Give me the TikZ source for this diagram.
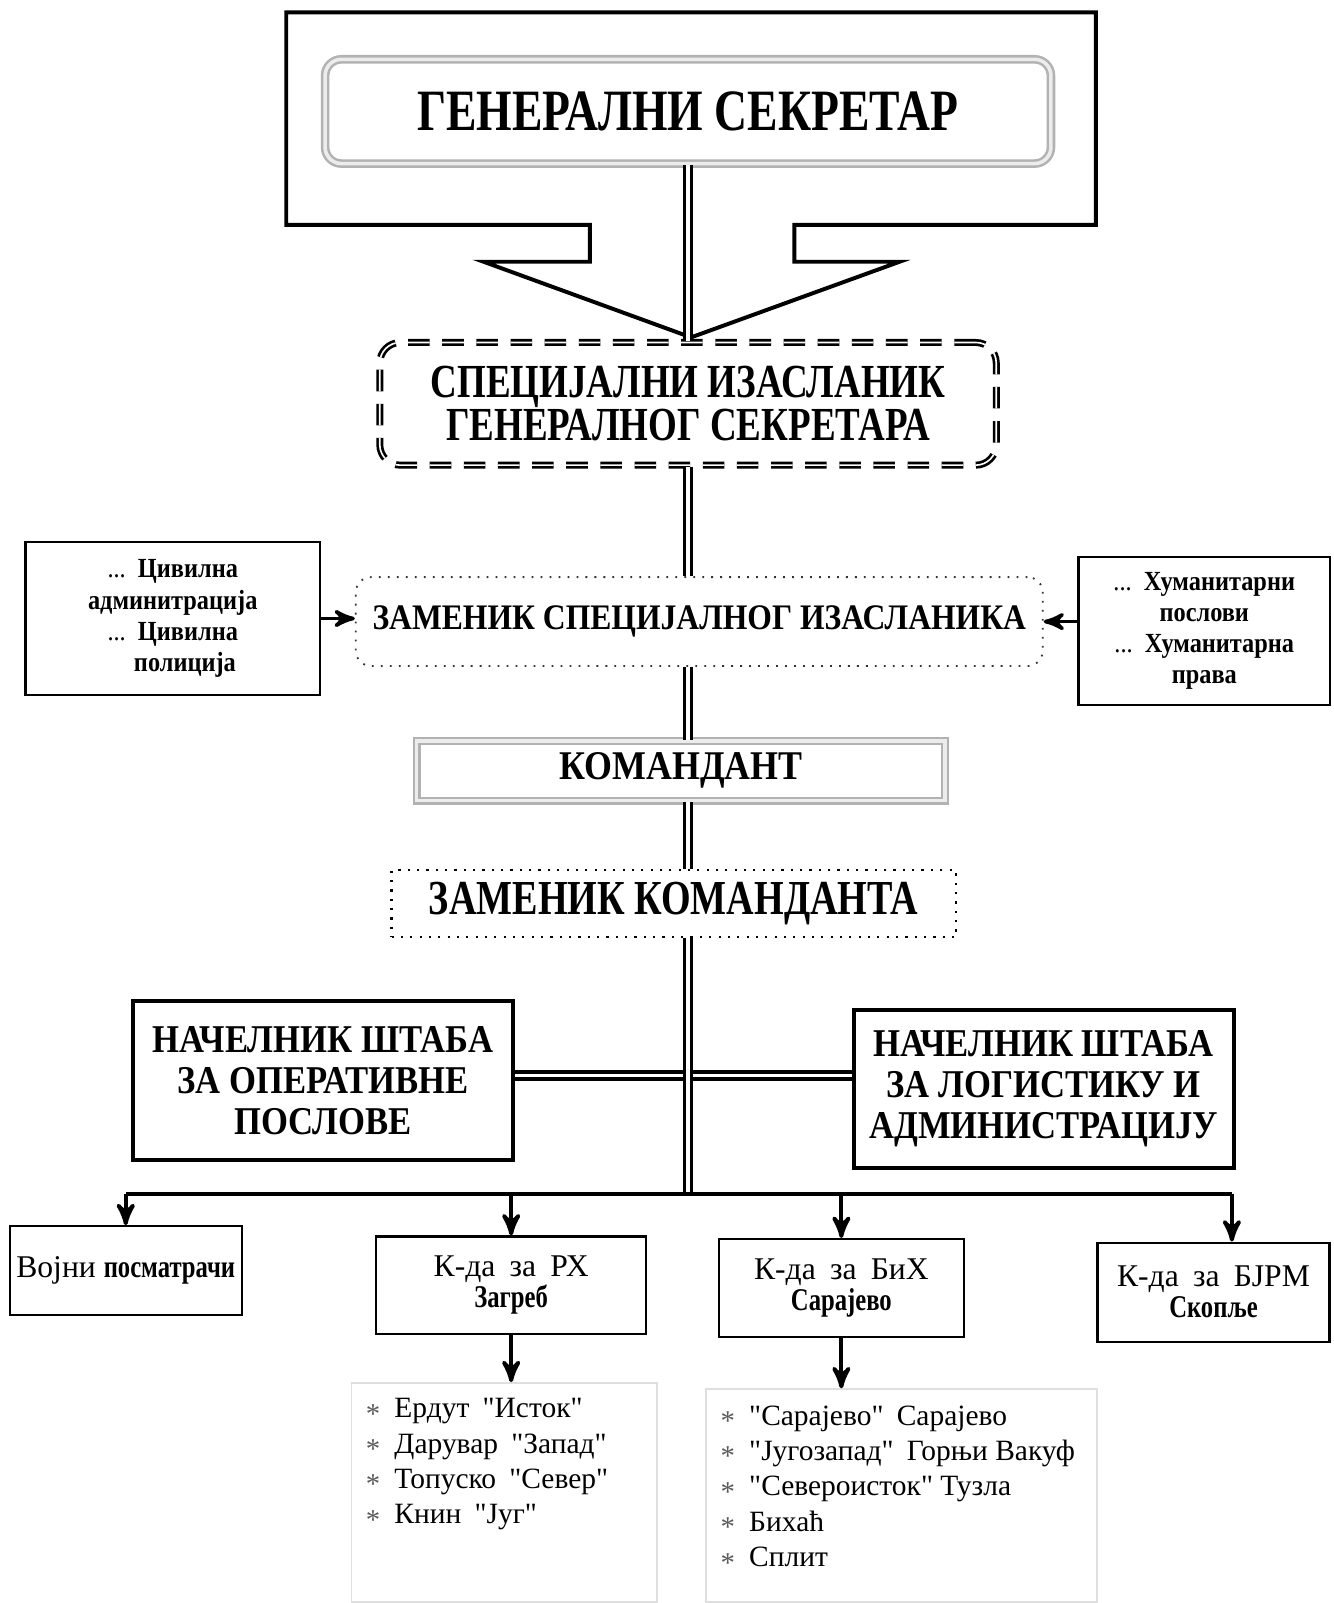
\documentclass[tikz,border=0pt]{standalone}
\usepackage{fontspec}
\setmainfont{Liberation Serif}
\newfontfamily\plainserif{Liberation Serif}
\newfontfamily\narrowA{Liberation Serif}[FakeStretch=0.78]
\newfontfamily\narrowB{Liberation Serif}[FakeStretch=0.88]
\usetikzlibrary{arrows}
\newcommand\bul{\makebox[2.8mm][l]{\textcolor{black!65}{\raisebox{-0.4ex}{\footnotesize *}}}}
\newcommand\gap{\hspace{0.45em}}
\newcommand\hb[1]{{\narrowA\bfseries #1}}

\begin{document}
\begin{tikzpicture}[x=0.1mm,y=-0.1mm,>=stealth',semithick]
  \tikzstyle{chief}=[draw=gray!60,double=gray!15,double distance=1pt,line width=0.7pt,
                     rounded corners=1.6mm,fill=white,minimum width=71mm,minimum height=10.2mm,
                     font=\narrowA\bfseries\fontsize{16.3}{18}\selectfont]
  \tikzstyle{envoybox}=[draw,double,double distance=0.45pt,line width=0.75pt,
                        dash pattern=on 6pt off 3.5pt,rounded corners=2mm,
                        minimum width=60.3mm,minimum height=12mm,align=center,
                        font=\narrowA\bfseries\fontsize{13.2}{12}\selectfont]
  \tikzstyle{deputybox}=[draw=black!80,dotted,line width=0.5pt,rounded corners=1.5mm,
                         minimum width=67.2mm,minimum height=8.7mm,
                         font=\narrowB\bfseries\fontsize{10}{12}\selectfont]
  \tikzstyle{sidebox}=[draw,line width=0.6pt,align=center,
                       font=\narrowB\bfseries\fontsize{7.7}{8.7}\selectfont]
  \tikzstyle{commbox}=[draw=gray!60,double=gray!15,double distance=1pt,line width=0.6pt,
                       minimum width=51.7mm,minimum height=5.8mm,
                       font=\narrowB\bfseries\fontsize{11.35}{13}\selectfont]
  \tikzstyle{dotbox}=[draw,dotted,line width=0.6pt,minimum width=55.2mm,minimum height=5.8mm,
                      font=\narrowA\bfseries\fontsize{13.6}{15}\selectfont]
  \tikzstyle{staffbox}=[draw,line width=1.1pt,minimum width=37.2mm,minimum height=15.5mm,
                        align=center,font=\narrowB\bfseries\fontsize{10.96}{11.4}\selectfont]
  \tikzstyle{unitbox}=[draw,line width=0.6pt,align=center,inner xsep=1.5pt,
                       font=\plainserif\fontsize{8.8}{8.6}\selectfont]
  \tikzstyle{listbox}=[draw=gray!25,line width=0.5pt,inner xsep=1.4mm,inner ysep=0.4mm,
                       font=\plainserif\fontsize{8.2}{9.85}\selectfont]
  \tikzstyle{trunk}=[double,double distance=1pt,line width=0.9pt]
  \tikzstyle{barline}=[line width=1.3pt]
  \tikzstyle{drop}=[->,line width=1.1pt]
  \tikzstyle{side}=[->,line width=1pt]

  \useasboundingbox (0,0) rectangle (1304,1568);

  % callout round the secretary general
  \draw[line width=1.1pt] (280,12) -- (1072,12) -- (1072,220) -- (777,220) -- (777,256)
    -- (880,256) -- (676,330) -- (473,256) -- (577,256) -- (577,220) -- (280,220) -- cycle;

  \node[chief]     (gensec)    at (673,109) {ГЕНЕРАЛНИ СЕКРЕТАР};
  \node[envoybox]  (envoy)     at (673,395) {СПЕЦИЈАЛНИ ИЗАСЛАНИК\\ГЕНЕРАЛНОГ СЕКРЕТАРА};
  \node[deputybox] (deputy)    at (684,608) {ЗАМЕНИК СПЕЦИЈАЛНОГ ИЗАСЛАНИКА};
  \node[sidebox,minimum width=28.8mm,minimum height=15mm] (civil) at (169,605)
    {{\mdseries...}\ \ Цивилна\\админитрација\\{\mdseries...}\ \ Цивилна\\\ \ \ \ полиција};
  \node[sidebox,minimum width=24.6mm,minimum height=14.5mm] (human) at (1178,617)
    {{\mdseries...}\ \ Хуманитарни\\послови\\{\mdseries...}\ \ Хуманитарна\\права};
  \node[commbox]   (komandant) at (666,754) {КОМАНДАНТ};
  \node[dotbox]    (zamkom)    at (659,884) {ЗАМЕНИК КОМАНДАНТА};
  \node[staffbox]  (staffop)   at (316,1057) {НАЧЕЛНИК ШТАБА\\ЗА ОПЕРАТИВНЕ\\ПОСЛОВЕ};
  \node[staffbox]  (stafflog)  at (1021,1065) {НАЧЕЛНИК ШТАБА\\ЗА ЛОГИСТИКУ И\\АДМИНИСТРАЦИЈУ};

  \node[unitbox,minimum width=22.7mm,minimum height=8.7mm] (vojni) at (123,1243)
    {\raisebox{0.6mm}{Војни \hb{посматрачи}}};
  \node[unitbox,minimum width=26.4mm,minimum height=9.5mm] (rh) at (500,1257)
    {К-да\gap за\gap РХ\\\hb{Загреб}};
  \node[unitbox,minimum width=24mm,minimum height=9.6mm] (bih) at (823,1260)
    {К-да\gap за\gap БиХ\\\hb{Сарајево}};
  \node[unitbox,minimum width=22.7mm,minimum height=9.7mm] (bjrm) at (1187,1264)
    {К-да\gap за\gap БЈРМ\\\hb{Скопље}};

  \node[listbox,anchor=north west] (rhlist) at (343,1352)
    {\begin{minipage}[t][20.6mm][t]{27.1mm}\raggedright
     \vspace*{1.1mm}
     \mbox{\bul Ердут\gap"Исток"}\\
     \mbox{\bul Дарувар\gap"Запад"}\\
     \mbox{\bul Топуско\gap"Север"}\\
     \mbox{\bul Книн\gap"Југ"}
     \end{minipage}};
  \node[listbox,anchor=north west] (bihlist) at (690,1358)
    {\begin{minipage}[t][20mm][t]{35.4mm}\raggedright
     \vspace*{1.2mm}
     \mbox{\bul "Сарајево"\gap Сарајево}\\
     \mbox{\bul "Југозапад"\gap Горњи Вакуф}\\
     \mbox{\bul "Североисток" Тузла}\\
     \mbox{\bul Бихаћ}\\
     \mbox{\bul Сплит}
     \end{minipage}};

  % main line
  \coordinate (axis) at (673,0);
  \coordinate (staffline) at (673,1052);
  \coordinate (bar) at (673,1168);
  \coordinate (bjdrop) at (1205,1168);
  \draw[trunk] (staffop.east |- staffline) -- (stafflog.west |- staffline);
  \draw[trunk] (gensec.south -| axis) -- (envoy.north -| axis);
  \draw[trunk] (envoy.south -| axis) -- (deputy.north -| axis);
  \draw[trunk] (deputy.south -| axis) -- (komandant.north -| axis);
  \draw[trunk] (komandant.south -| axis) -- (zamkom.north -| axis);
  \draw[trunk] (zamkom.south -| axis) -- (bar);

  \draw[side] (civil.east) -- (civil.east -| deputy.west);
  \draw[side] (human.west |- deputy.east) -- (deputy.east);

  \draw[barline] (vojni.north |- bar) -- (bjdrop);
  \foreach \n in {vojni,rh,bih}
    \draw[drop] (\n.north |- bar) -- (\n.north);
  \draw[drop] (bjdrop) -- (bjdrop |- bjrm.north);
  \draw[drop] (rh.south) -- (rh.south |- rhlist.north);
  \draw[drop] (bih.south) -- (bih.south |- bihlist.north);
\end{tikzpicture}
\end{document}
